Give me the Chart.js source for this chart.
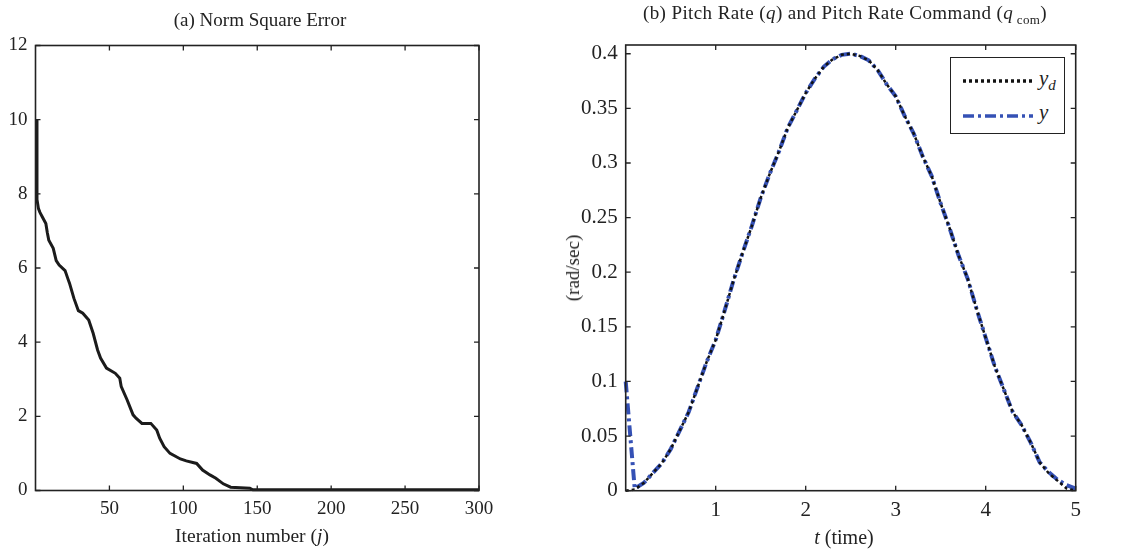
<!DOCTYPE html>
<html>
<head>
<meta charset="utf-8">
<script src="https://cdn.jsdelivr.net/npm/chart.js@4.4.1/dist/chart.umd.min.js"></script>
<style>
  html, body { margin: 0; padding: 0; background: #fff; }
  body { width: 1125px; height: 551px; position: relative; overflow: hidden; font-family: "Liberation Serif", "DejaVu Serif", serif; color: #222; }
  canvas { position: absolute; top: 0; }
  .txt { position: absolute; white-space: nowrap; transform: translate(-50%, -50%); }
  .legend { position: absolute; left: 950px; top: 57px; width: 113px; height: 75px; border: 1.5px solid #222; background: #fff; }
  .legend svg { position: absolute; left: 0; top: 0; }
  .lg { position: absolute; font-size: 21px; font-style: italic; }
  .lg sub { font-size: 15px; }
</style>
</head>
<body>
<canvas id="c1" width="560" height="551" style="left:0;width:560px;height:551px"></canvas>
<canvas id="c2" width="565" height="551" style="left:560px;width:565px;height:551px"></canvas>

<div class="txt" style="left:260px;top:20px;font-size:19px;">(a) Norm Square Error</div>
<div class="txt" style="left:252px;top:536px;font-size:19.5px;">Iteration number (<i>j</i>)</div>
<div class="txt" style="left:845px;top:15px;font-size:19px;letter-spacing:0.4px;">(b) Pitch Rate (<i>q</i>) and Pitch Rate Command (<i>q</i><sub style="font-size:13px;"> com</sub>)</div>
<div class="txt" style="left:844px;top:537px;font-size:20px;"><i>t</i> (time)</div>
<div class="txt" style="left:573px;top:268px;font-size:19px;transform:translate(-50%,-50%) rotate(-90deg);">(rad/sec)</div>

<div class="legend">
  <svg width="113" height="75">
    <line x1="12" y1="23" x2="82" y2="23" stroke="#111" stroke-width="3.5" stroke-dasharray="3,3"/>
    <line x1="12" y1="58" x2="82" y2="58" stroke="#3551b5" stroke-width="3.5" stroke-dasharray="11,4,3,4"/>
  </svg>
  <div class="lg" style="left:88px;top:8px;">y<sub>d</sub></div>
  <div class="lg" style="left:88px;top:42px;">y</div>
</div>

<script>
// ---------- Data ----------
// (a) Norm square error vs iteration
const iterations = [1, 1, 2, 3, 5, 7, 8, 9, 12, 14, 16, 20, 22, 23, 26, 29, 32, 36, 39, 42, 44, 48, 54, 57, 58, 62, 66, 68, 72, 78, 82, 84, 87, 91, 98, 102, 109, 113, 118, 122, 127, 132, 145, 147, 200, 250, 300];
const normSqError = [10, 7.85, 7.6, 7.5, 7.35, 7.2, 6.95, 6.75, 6.53, 6.2, 6.08, 5.93, 5.7, 5.59, 5.18, 4.85, 4.78, 4.6, 4.24, 3.79, 3.57, 3.3, 3.16, 3.03, 2.8, 2.44, 2.04, 1.95, 1.81, 1.81, 1.63, 1.41, 1.18, 1.0, 0.85, 0.8, 0.73, 0.55, 0.42, 0.33, 0.18, 0.09, 0.06, 0.02, 0.02, 0.02, 0.02];
const xTicksA = [50, 100, 150, 200, 250, 300];
const yTicksA = [0, 2, 4, 6, 8, 10, 12];

// (b) Pitch rate command y_d and pitch rate y vs time
const timeSec = [0, 0.1, 0.2, 0.3, 0.4, 0.5, 0.6, 0.7, 0.8, 0.9, 1.0, 1.1, 1.2, 1.3, 1.4, 1.5, 1.6, 1.7, 1.8, 1.9, 2.0, 2.1, 2.2, 2.3, 2.4, 2.5, 2.6, 2.7, 2.8, 2.9, 3.0, 3.1, 3.2, 3.3, 3.4, 3.5, 3.6, 3.7, 3.8, 3.9, 4.0, 4.1, 4.2, 4.3, 4.4, 4.5, 4.6, 4.7, 4.8, 4.9, 5.0];
const yDesired = [0, 0.001, 0.007, 0.016, 0.025, 0.038, 0.055, 0.072, 0.095, 0.118, 0.138, 0.165, 0.193, 0.218, 0.242, 0.268, 0.29, 0.31, 0.332, 0.348, 0.364, 0.377, 0.388, 0.395, 0.399, 0.4, 0.398, 0.394, 0.385, 0.372, 0.361, 0.343, 0.327, 0.306, 0.288, 0.263, 0.24, 0.215, 0.194, 0.166, 0.14, 0.114, 0.093, 0.072, 0.06, 0.044, 0.026, 0.016, 0.009, 0.002, 0];
const yOutput = [0.1, 0.002, 0.007, 0.016, 0.025, 0.038, 0.055, 0.072, 0.095, 0.118, 0.138, 0.165, 0.193, 0.218, 0.242, 0.268, 0.29, 0.31, 0.332, 0.348, 0.364, 0.377, 0.388, 0.395, 0.399, 0.4, 0.398, 0.394, 0.385, 0.372, 0.361, 0.343, 0.327, 0.306, 0.288, 0.263, 0.24, 0.215, 0.194, 0.166, 0.14, 0.114, 0.093, 0.072, 0.06, 0.044, 0.026, 0.017, 0.01, 0.005, 0.002];
const xTicksB = [1, 2, 3, 4, 5];
const yTicksB = [0, 0.05, 0.1, 0.15, 0.2, 0.25, 0.3, 0.35, 0.4];

// ---------- Helpers ----------
const axisColor = '#222';
const boxTicks = {
  id: 'boxTicks',
  afterDraw(chart) {
    const { ctx, chartArea: a, scales } = chart;
    const L = 5;
    ctx.save();
    ctx.strokeStyle = axisColor;
    ctx.lineWidth = 1.3;
    ctx.beginPath();
    scales.x.ticks.forEach(t => {
      const px = scales.x.getPixelForValue(t.value);
      ctx.moveTo(px, a.bottom); ctx.lineTo(px, a.bottom - L);
      ctx.moveTo(px, a.top); ctx.lineTo(px, a.top + L);
    });
    scales.y.ticks.forEach(t => {
      const py = scales.y.getPixelForValue(t.value);
      ctx.moveTo(a.left, py); ctx.lineTo(a.left + L, py);
      ctx.moveTo(a.right, py); ctx.lineTo(a.right - L, py);
    });
    ctx.stroke();
    ctx.lineWidth = 1.6;
    ctx.strokeRect(a.left, a.top, a.right - a.left, a.bottom - a.top);
    ctx.restore();
  }
};

function fixedTicks(arr) {
  return function (scale) { scale.ticks = arr.map(v => ({ value: v })); };
}

function makeScales(xMin, xMax, xt, yMin, yMax, yt, yWidth, xHeight, fontSize) {
  const font = { family: '"Liberation Serif", serif', size: fontSize };
  return {
    x: {
      type: 'linear', min: xMin, max: xMax,
      afterBuildTicks: fixedTicks(xt),
      afterFit(s) { s.height = xHeight; },
      grid: { display: false, drawTicks: false },
      border: { display: false },
      ticks: { color: axisColor, font, padding: 7, maxRotation: 0, autoSkip: false, callback: v => String(v) }
    },
    y: {
      type: 'linear', min: yMin, max: yMax,
      afterBuildTicks: fixedTicks(yt),
      afterFit(s) { s.width = yWidth; },
      grid: { display: false, drawTicks: false },
      border: { display: false },
      ticks: { color: axisColor, font, padding: 8, autoSkip: false, callback: v => String(+v.toFixed(2)) }
    }
  };
}

// ---------- Chart (a) ----------
new Chart(document.getElementById('c1'), {
  type: 'line',
  data: {
    datasets: [{
      data: iterations.map((j, i) => ({ x: j, y: normSqError[i] })),
      borderColor: '#1b1b1b', borderWidth: 3, pointRadius: 0, tension: 0, fill: false, clip: false
    }]
  },
  options: {
    responsive: false, animation: false, devicePixelRatio: 1,
    layout: { padding: { left: 0, top: 45.5, right: 81, bottom: 0 } },
    plugins: { legend: { display: false }, tooltip: { enabled: false } },
    scales: makeScales(0, 300, xTicksA, 0, 12, yTicksA, 35.5, 60.5, 19)
  },
  plugins: [boxTicks]
});

// ---------- Chart (b) ----------
new Chart(document.getElementById('c2'), {
  type: 'line',
  data: {
    datasets: [
      {
        label: 'y_d',
        data: timeSec.map((t, i) => ({ x: t, y: yDesired[i] })),
        borderColor: '#111', borderWidth: 2.5, borderDash: [3, 3], pointRadius: 0, tension: 0, fill: false, clip: false
      },
      {
        label: 'y',
        data: timeSec.map((t, i) => ({ x: t, y: yOutput[i] })),
        borderColor: '#3551b5', borderWidth: 4, borderDash: [11, 4, 3, 4], pointRadius: 0, tension: 0, fill: false, clip: false
      }
    ]
  },
  options: {
    responsive: false, animation: false, devicePixelRatio: 1,
    layout: { padding: { left: 0, top: 45, right: 49.3, bottom: 0 } },
    plugins: { legend: { display: false }, tooltip: { enabled: false } },
    scales: makeScales(0, 5, xTicksB, 0, 0.408, yTicksB, 65.7, 60.3, 21)
  },
  plugins: [boxTicks]
});
</script>
</body>
</html>
